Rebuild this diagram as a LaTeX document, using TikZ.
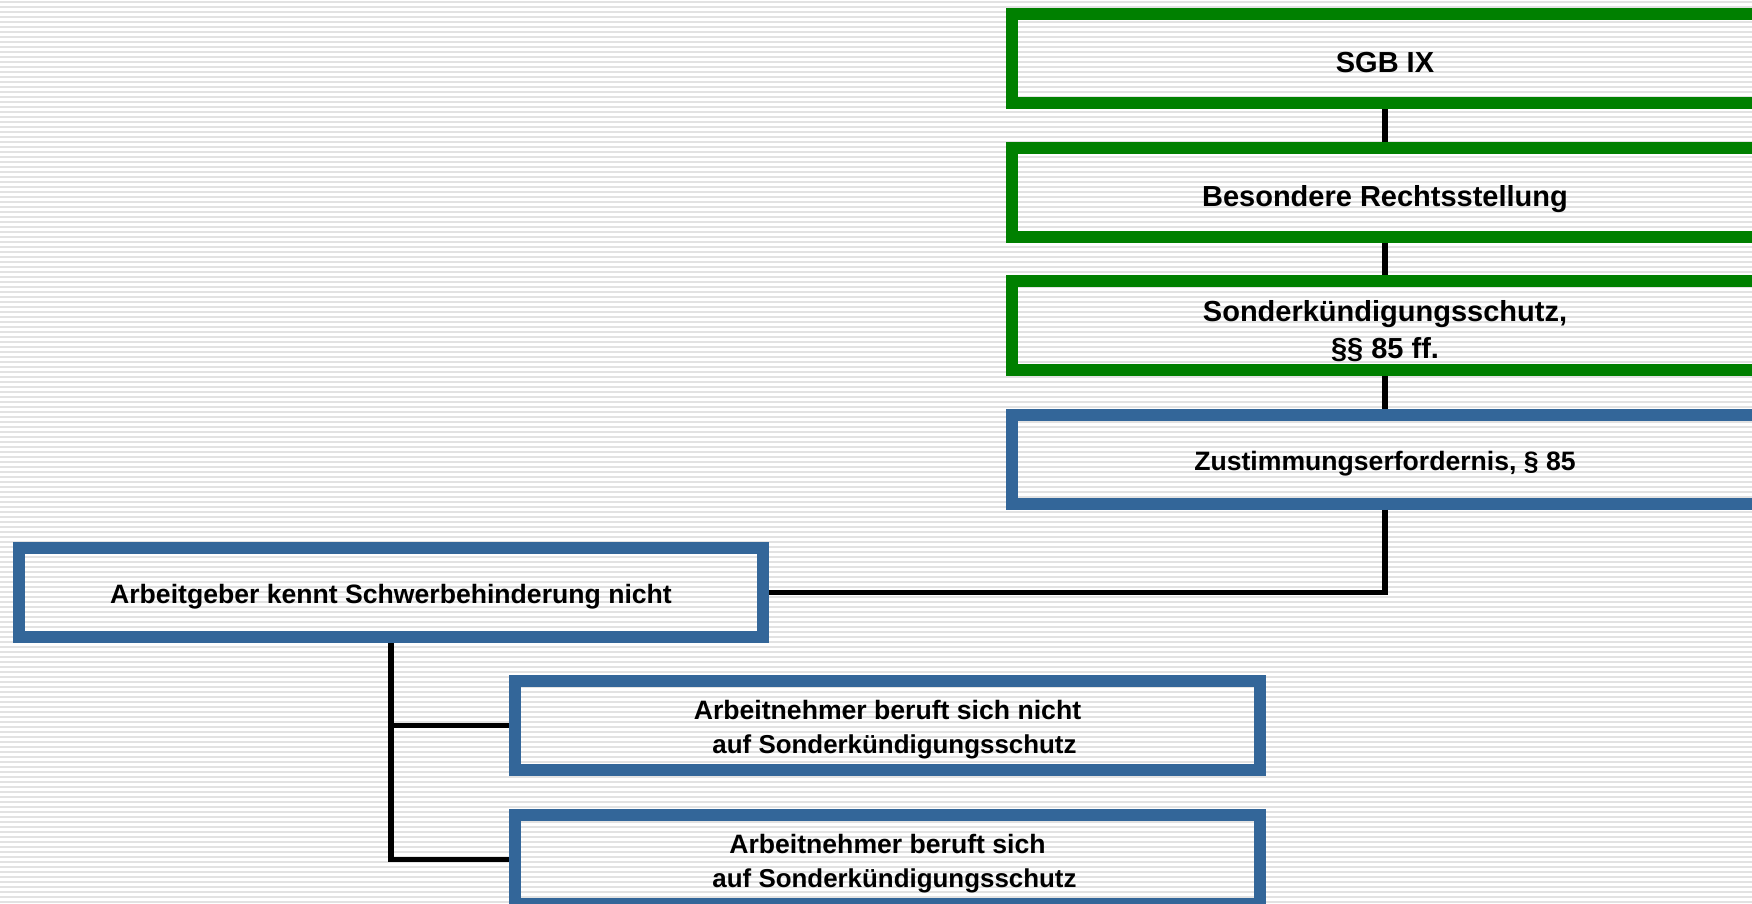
\documentclass[tikz,border=0pt]{standalone}
\usepackage{fontspec}
\setmainfont{Liberation Sans}
\definecolor{boxgreen}{RGB}{0,128,0}
\definecolor{boxblue}{RGB}{51,102,153}
\definecolor{stripe}{RGB}{226,226,226}
\tikzset{
  base/.style={draw, line width=12pt, rectangle, align=center, inner sep=0pt, text=black, font=\bfseries},
  gbox/.style={base, draw=boxgreen, minimum width=746pt, minimum height=89pt, font=\bfseries\fontsize{29}{37}\selectfont},
  bbox/.style={base, draw=boxblue, minimum width=745pt, minimum height=89pt, font=\bfseries\fontsize{26.6}{34.5}\selectfont},
  gone/.style={text height=27pt, text depth=0pt},
  bone/.style={text height=22pt, text depth=0pt},
  conn/.style={draw=black, line width=5.5pt}
}
\newcommand{\secline}[1]{\hspace*{14pt}{\fontsize{25.9}{34.5}\selectfont #1}}
\newcommand{\gstrut}{\rule{0pt}{32pt}}
\newcommand{\bstrut}{\rule{0pt}{27.5pt}}
\begin{document}
\begin{tikzpicture}[x=1pt,y=-1pt]
\useasboundingbox (0,0) rectangle (1752,903);
\clip (0,0) rectangle (1752,903);
\fill[white] (0,0) rectangle (1752,903);
\foreach \k in {0,...,180} {
  \draw[stripe, line width=2pt] (0,{\k*5+2}) -- (1752,{\k*5+2});
}
\node[gbox, gone] (sgb) at (1385,58.5) {SGB IX};
\node[gbox, gone] (bes) at (1385,192.5) {Besondere Rechtsstellung};
\node[gbox] (sks) at (1385,325.5) {\gstrut Sonderkündigungsschutz,\\ §§ 85 ff.};
\node[bbox, bone, minimum width=746pt] (zus) at (1385,459) {Zustimmungserfordernis, § 85};
\node[bbox, bone, minimum width=744pt] (arb) at (391,592.5) {Arbeitgeber kennt Schwerbehinderung nicht};
\node[bbox] (an1) at (887.5,725.5) {\bstrut Arbeitnehmer beruft sich nicht\\ \secline{auf Sonderkündigungsschutz}};
\node[bbox] (an2) at (887.5,859.5) {\bstrut Arbeitnehmer beruft sich\\ \secline{auf Sonderkündigungsschutz}};
\draw[conn] (sgb.south) -- (bes.north);
\draw[conn] (bes.south) -- (sks.north);
\draw[conn] (sks.south) -- (zus.north);
\draw[conn] (zus.south) -- (zus.south |- arb.east) -- (arb.east);
\draw[conn] (arb.south) -- (arb.south |- an2.west) -- (an2.west);
\draw[conn] (arb.south |- an1.west) -- (an1.west);
\end{tikzpicture}
\end{document}
